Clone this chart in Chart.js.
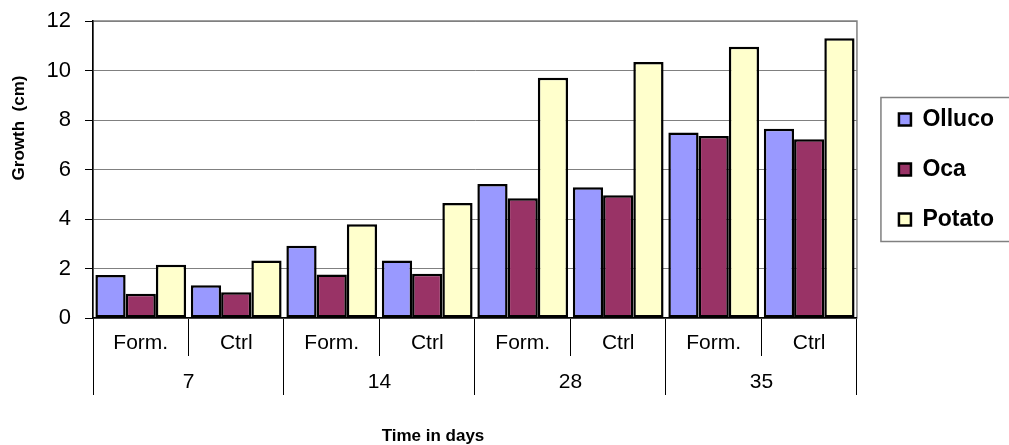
<!DOCTYPE html>
<html>
<head>
<meta charset="utf-8">
<script src="https://cdn.jsdelivr.net/npm/chart.js@4.4.1/dist/chart.umd.min.js"></script>
<style>
  html, body { margin: 0; padding: 0; background: #fff; }
</style>
</head>
<body>
<canvas id="growthChart" width="1009" height="445"></canvas>
<script>
// valores
var treatments = ['Form.', 'Ctrl', 'Form.', 'Ctrl', 'Form.', 'Ctrl', 'Form.', 'Ctrl'];
var days = ['7', '14', '28', '35'];
var olluco = [1.74, 1.32, 2.92, 2.32, 5.41, 5.28, 7.50, 7.65];
var oca = [0.98, 1.04, 1.76, 1.79, 4.84, 4.96, 7.35, 7.22];
var potato = [2.15, 2.32, 3.79, 4.65, 9.71, 10.34, 10.96, 11.30];
var yTicks = [0, 2, 4, 6, 8, 10, 12];

Chart.defaults.font.family = '"Liberation Sans", Arial, sans-serif';
Chart.defaults.color = '#000';

// moldura da área do gráfico, moldura da legenda e títulos dos eixos
var frameAndTitles = {
  id: 'frameAndTitles',
  beforeDraw: function(chart) {
    var a = chart.chartArea, ctx = chart.ctx;
    ctx.save();
    ctx.fillStyle = '#fff';
    ctx.fillRect(0, 0, chart.width, chart.height);
    ctx.strokeStyle = '#808080';
    ctx.lineWidth = 1.5;
    ctx.strokeRect(a.left, a.top, a.right - a.left, a.bottom - a.top);
    ctx.restore();
  },
  afterDraw: function(chart) {
    var a = chart.chartArea, ctx = chart.ctx, lg = chart.legend;
    var cy = (lg.top + lg.bottom) / 2;
    ctx.save();
    ctx.strokeStyle = '#808080';
    ctx.lineWidth = 1.5;
    ctx.strokeRect(lg.left + 9, cy - 72, chart.width, 144);

    ctx.fillStyle = '#000';
    ctx.font = 'bold 17px "Liberation Sans", Arial, sans-serif';
    ctx.textAlign = 'center';
    ctx.textBaseline = 'middle';
    ctx.fillText('Time in days', (a.left + a.right) / 2 - 42, chart.height - 9);
    ctx.translate(19, 128);
    ctx.rotate(-Math.PI / 2);
    ctx.fillText('Growth  (cm)', 0, 0);
    ctx.restore();
  }
};

new Chart(document.getElementById('growthChart'), {
  type: 'bar',
  data: {
    labels: treatments,
    datasets: [
      { label: 'Olluco', data: olluco, backgroundColor: '#9999FF' },
      { label: 'Oca', data: oca, backgroundColor: '#993366' },
      { label: 'Potato', data: potato, backgroundColor: '#FFFFCC' }
    ]
  },
  options: {
    responsive: false,
    devicePixelRatio: 1,
    animation: false,
    layout: { padding: { top: 21, right: 5, bottom: 50, left: 0 } },
    datasets: {
      bar: {
        borderColor: '#000',
        borderWidth: 2.5,
        borderSkipped: false,
        categoryPercentage: 0.95,
        barPercentage: 1
      }
    },
    plugins: {
      tooltip: { enabled: false },
      legend: {
        position: 'right',
        fullSize: false,
        align: 'center',
        labels: {
          font: { size: 23, weight: 'bold' },
          boxWidth: 12,
          boxHeight: 12,
          padding: 27
        }
      }
    },
    scales: {
      x: {
        position: 'bottom',
        grid: { display: true, drawOnChartArea: false, offset: true, tickLength: 38, color: '#000' },
        border: { color: '#000', width: 1.5 },
        ticks: { font: { size: 21 }, padding: -25, maxRotation: 0, autoSkip: false },
        afterFit: function(s) { s.height = 38; }
      },
      x2: {
        type: 'category',
        labels: days,
        position: 'bottom',
        offset: true,
        grid: { display: true, drawOnChartArea: false, offset: true, tickLength: 39, color: '#000' },
        border: { display: false },
        ticks: { font: { size: 21 }, padding: -25, maxRotation: 0, autoSkip: false },
        afterFit: function(s) { s.height = 39; }
      },
      y: {
        min: 0,
        max: 12,
        afterBuildTicks: function(s) { s.ticks = yTicks.map(function(v) { return { value: v }; }); },
        grid: { color: '#808080', tickColor: '#000', tickLength: 8 },
        border: { color: '#000', width: 1.5 },
        ticks: { font: { size: 22 }, padding: 14 },
        afterFit: function(s) {
          s.width = 93;
          s.paddingTop = 0;
          s.paddingBottom = 0;
        }
      },
      spacer: {
        type: 'linear',
        position: 'right',
        grid: { display: false },
        border: { display: false },
        ticks: { display: false },
        afterFit: function(s) { s.width = 15; }
      }
    }
  },
  plugins: [frameAndTitles]
});
</script>
</body>
</html>
